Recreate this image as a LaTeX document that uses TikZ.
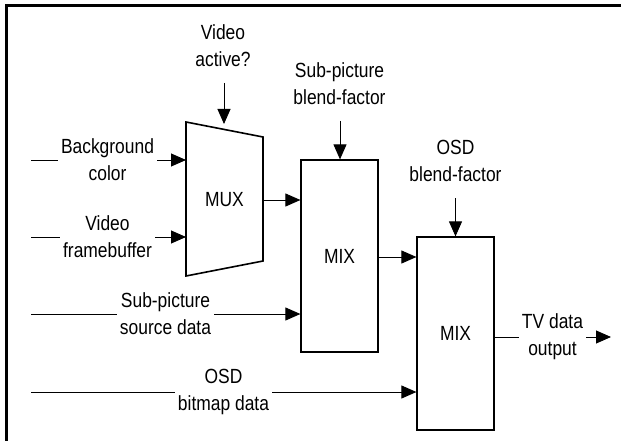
\documentclass[tikz,border=0pt]{standalone}
\usepackage{fontspec}
\setmainfont{Liberation Sans}[FakeStretch=0.85]
\usetikzlibrary{arrows.meta}
\begin{document}
\begin{tikzpicture}[x=1pt,y=-1pt,
  lbl/.style={align=center,font=\fontsize{20.5}{27}\selectfont,inner xsep=3pt,inner ysep=0pt},
  wire/.style={line width=0.9pt},
  arr/.style={wire,-{Triangle[length=15pt,width=13pt]}},
  blk/.style={draw,line width=1.2pt,minimum width=77pt,inner sep=0pt,font=\fontsize{20.5}{27}\selectfont}]
\useasboundingbox (0,0) rectangle (621,441);
% frame
\draw[line width=3pt] (621,5.5) -- (6,5.5) -- (6,441);
% MUX
\coordinate (mtl) at (186,122);
\coordinate (mtr) at (263,137);
\coordinate (mbr) at (263,261);
\coordinate (mbl) at (186,276);
\draw[line width=1.6pt,line join=miter] (mtl) -- (mtr) -- (mbr) -- (mbl) -- cycle;
\node[font=\fontsize{20.5}{27}\selectfont] (mux) at (224.5,200) {MUX};
% MIX blocks
\node[blk,minimum height=192pt] (mix1) at (339.5,256) {MIX};
\node[blk,minimum height=193pt] (mix2) at (455.5,333.5) {MIX};
% labels
\node[lbl] (vact) at (223,46) {Video\\active?};
\node[lbl] (sbf) at (339.5,84) {Sub-picture\\blend-factor};
\node[lbl] (obf) at (455.5,161) {OSD\\blend-factor};
\node[lbl] (bg) at (107.5,160) {Background\\color};
\node[lbl] (vfb) at (107.5,237) {Video\\framebuffer};
\node[lbl] (sps) at (165.5,314) {Sub-picture\\source data};
\node[lbl] (osd) at (223.5,392) {OSD\\bitmap data};
\node[lbl] (tv) at (552.5,337) {TV data\\output};
% free ends
\coordinate (bgS) at (31,160);
\coordinate (vfbS) at (31,237);
\coordinate (spsS) at (31,314);
\coordinate (osdS) at (31,392);
\coordinate (vactS) at (224,83);
\coordinate (vactE) at (224,124);
\coordinate (sbfS) at (340,121);
\coordinate (obfS) at (455.5,198);
\coordinate (muxO) at (263,200);
\coordinate (tvE) at (611,337);
% connectors
\draw[wire] (bgS) -- (bg.west);
\draw[arr] (bg.east) -- (bg.east -| mtl);
\draw[wire] (vfbS) -- (vfb.west);
\draw[arr] (vfb.east) -- (vfb.east -| mtl);
\draw[arr] (vactS) -- (vactE);
\draw[arr] (muxO) -- (muxO -| mix1.west);
\draw[arr] (sbfS) -- (sbfS |- mix1.north);
\draw[wire] (spsS) -- (sps.west);
\draw[arr] (sps.east) -- (sps.east -| mix1.west);
\draw[arr] (mix1.east |- 0,257) -- (mix2.west |- 0,257);
\draw[arr] (obfS) -- (mix2.north);
\draw[wire] (osdS) -- (osd.west);
\draw[arr] (osd.east) -- (osd.east -| mix2.west);
\draw[wire] (mix2.east |- tv.west) -- (tv.west);
\draw[arr] (tv.east) -- (tvE);
\end{tikzpicture}
\end{document}
